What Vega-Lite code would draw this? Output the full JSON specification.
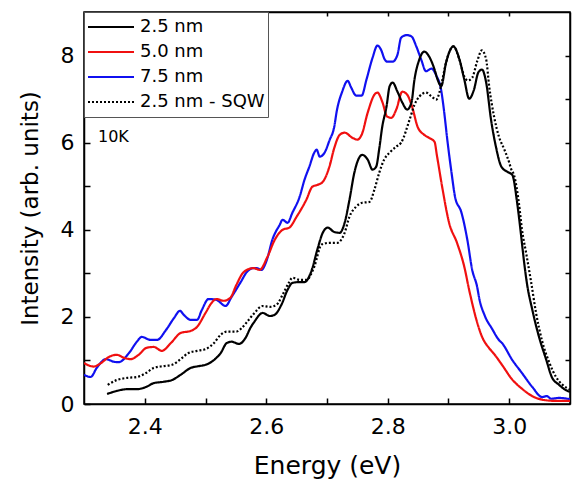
{
  "$schema": "https://vega.github.io/schema/vega-lite/v6.json",
  "width": 486,
  "height": 392,
  "autosize": {"type": "none"},
  "padding": {"left": 84, "top": 12, "right": 2, "bottom": 77},
  "background": "white",
  "config": {
    "font": "DejaVu Sans",
    "view": {"stroke": "#000", "strokeWidth": 1.5},
    "axis": {"domainColor": "#000", "domainWidth": 1.5, "tickColor": "#000", "tickWidth": 1.5, "labelColor": "#000", "titleColor": "#000", "grid": false, "labelFont": "DejaVu Sans", "titleFont": "DejaVu Sans", "titleFontWeight": "normal"}
  },
  "datasets": {
    "spectra": [
      {"series": "7.5 nm", "energy": 2.300, "intensity": 0.67},
      {"series": "7.5 nm", "energy": 2.311, "intensity": 0.62},
      {"series": "7.5 nm", "energy": 2.321, "intensity": 0.83},
      {"series": "7.5 nm", "energy": 2.336, "intensity": 1.03},
      {"series": "7.5 nm", "energy": 2.349, "intensity": 0.97},
      {"series": "7.5 nm", "energy": 2.357, "intensity": 0.96},
      {"series": "7.5 nm", "energy": 2.374, "intensity": 1.17},
      {"series": "7.5 nm", "energy": 2.387, "intensity": 1.43},
      {"series": "7.5 nm", "energy": 2.395, "intensity": 1.54},
      {"series": "7.5 nm", "energy": 2.410, "intensity": 1.47},
      {"series": "7.5 nm", "energy": 2.420, "intensity": 1.47},
      {"series": "7.5 nm", "energy": 2.435, "intensity": 1.70},
      {"series": "7.5 nm", "energy": 2.448, "intensity": 1.97},
      {"series": "7.5 nm", "energy": 2.458, "intensity": 2.14},
      {"series": "7.5 nm", "energy": 2.464, "intensity": 2.05},
      {"series": "7.5 nm", "energy": 2.476, "intensity": 1.93},
      {"series": "7.5 nm", "energy": 2.486, "intensity": 1.93},
      {"series": "7.5 nm", "energy": 2.494, "intensity": 2.16},
      {"series": "7.5 nm", "energy": 2.505, "intensity": 2.41},
      {"series": "7.5 nm", "energy": 2.518, "intensity": 2.39},
      {"series": "7.5 nm", "energy": 2.533, "intensity": 2.25},
      {"series": "7.5 nm", "energy": 2.543, "intensity": 2.46},
      {"series": "7.5 nm", "energy": 2.558, "intensity": 2.80},
      {"series": "7.5 nm", "energy": 2.568, "intensity": 3.03},
      {"series": "7.5 nm", "energy": 2.579, "intensity": 3.12},
      {"series": "7.5 nm", "energy": 2.584, "intensity": 3.12},
      {"series": "7.5 nm", "energy": 2.592, "intensity": 3.08},
      {"series": "7.5 nm", "energy": 2.601, "intensity": 3.31},
      {"series": "7.5 nm", "energy": 2.610, "intensity": 3.77},
      {"series": "7.5 nm", "energy": 2.622, "intensity": 4.11},
      {"series": "7.5 nm", "energy": 2.627, "intensity": 4.23},
      {"series": "7.5 nm", "energy": 2.635, "intensity": 4.16},
      {"series": "7.5 nm", "energy": 2.643, "intensity": 4.39},
      {"series": "7.5 nm", "energy": 2.655, "intensity": 4.76},
      {"series": "7.5 nm", "energy": 2.663, "intensity": 5.15},
      {"series": "7.5 nm", "energy": 2.671, "intensity": 5.45},
      {"series": "7.5 nm", "energy": 2.679, "intensity": 5.77},
      {"series": "7.5 nm", "energy": 2.683, "intensity": 5.84},
      {"series": "7.5 nm", "energy": 2.688, "intensity": 5.68},
      {"series": "7.5 nm", "energy": 2.696, "intensity": 5.77},
      {"series": "7.5 nm", "energy": 2.704, "intensity": 6.05},
      {"series": "7.5 nm", "energy": 2.712, "intensity": 6.37},
      {"series": "7.5 nm", "energy": 2.716, "intensity": 6.72},
      {"series": "7.5 nm", "energy": 2.725, "intensity": 7.17},
      {"series": "7.5 nm", "energy": 2.734, "intensity": 7.42},
      {"series": "7.5 nm", "energy": 2.740, "intensity": 7.26},
      {"series": "7.5 nm", "energy": 2.748, "intensity": 7.08},
      {"series": "7.5 nm", "energy": 2.757, "intensity": 7.08},
      {"series": "7.5 nm", "energy": 2.765, "intensity": 7.45},
      {"series": "7.5 nm", "energy": 2.775, "intensity": 7.95},
      {"series": "7.5 nm", "energy": 2.783, "intensity": 8.23},
      {"series": "7.5 nm", "energy": 2.790, "intensity": 8.10},
      {"series": "7.5 nm", "energy": 2.794, "intensity": 7.94},
      {"series": "7.5 nm", "energy": 2.799, "intensity": 7.86},
      {"series": "7.5 nm", "energy": 2.808, "intensity": 7.86},
      {"series": "7.5 nm", "energy": 2.816, "intensity": 8.02},
      {"series": "7.5 nm", "energy": 2.822, "intensity": 8.41},
      {"series": "7.5 nm", "energy": 2.831, "intensity": 8.47},
      {"series": "7.5 nm", "energy": 2.839, "intensity": 8.44},
      {"series": "7.5 nm", "energy": 2.847, "intensity": 8.21},
      {"series": "7.5 nm", "energy": 2.855, "intensity": 7.91},
      {"series": "7.5 nm", "energy": 2.863, "intensity": 7.64},
      {"series": "7.5 nm", "energy": 2.872, "intensity": 7.70},
      {"series": "7.5 nm", "energy": 2.880, "intensity": 7.54},
      {"series": "7.5 nm", "energy": 2.888, "intensity": 7.20},
      {"series": "7.5 nm", "energy": 2.893, "intensity": 6.69},
      {"series": "7.5 nm", "energy": 2.898, "intensity": 6.07},
      {"series": "7.5 nm", "energy": 2.905, "intensity": 5.31},
      {"series": "7.5 nm", "energy": 2.911, "intensity": 4.74},
      {"series": "7.5 nm", "energy": 2.921, "intensity": 4.41},
      {"series": "7.5 nm", "energy": 2.931, "intensity": 3.77},
      {"series": "7.5 nm", "energy": 2.939, "intensity": 3.08},
      {"series": "7.5 nm", "energy": 2.947, "intensity": 2.70},
      {"series": "7.5 nm", "energy": 2.951, "intensity": 2.40},
      {"series": "7.5 nm", "energy": 2.959, "intensity": 2.05},
      {"series": "7.5 nm", "energy": 2.972, "intensity": 1.72},
      {"series": "7.5 nm", "energy": 2.983, "intensity": 1.47},
      {"series": "7.5 nm", "energy": 2.988, "intensity": 1.40},
      {"series": "7.5 nm", "energy": 3.005, "intensity": 1.01},
      {"series": "7.5 nm", "energy": 3.021, "intensity": 0.71},
      {"series": "7.5 nm", "energy": 3.038, "intensity": 0.39},
      {"series": "7.5 nm", "energy": 3.054, "intensity": 0.16},
      {"series": "7.5 nm", "energy": 3.062, "intensity": 0.18},
      {"series": "7.5 nm", "energy": 3.069, "intensity": 0.12},
      {"series": "7.5 nm", "energy": 3.082, "intensity": 0.14},
      {"series": "7.5 nm", "energy": 3.100, "intensity": 0.11},
      {"series": "5.0 nm", "energy": 2.300, "intensity": 0.94},
      {"series": "5.0 nm", "energy": 2.316, "intensity": 0.86},
      {"series": "5.0 nm", "energy": 2.328, "intensity": 0.94},
      {"series": "5.0 nm", "energy": 2.341, "intensity": 1.08},
      {"series": "5.0 nm", "energy": 2.354, "intensity": 1.13},
      {"series": "5.0 nm", "energy": 2.366, "intensity": 1.06},
      {"series": "5.0 nm", "energy": 2.377, "intensity": 1.03},
      {"series": "5.0 nm", "energy": 2.390, "intensity": 1.13},
      {"series": "5.0 nm", "energy": 2.403, "intensity": 1.29},
      {"series": "5.0 nm", "energy": 2.415, "intensity": 1.31},
      {"series": "5.0 nm", "energy": 2.428, "intensity": 1.22},
      {"series": "5.0 nm", "energy": 2.443, "intensity": 1.40},
      {"series": "5.0 nm", "energy": 2.459, "intensity": 1.63},
      {"series": "5.0 nm", "energy": 2.476, "intensity": 1.68},
      {"series": "5.0 nm", "energy": 2.486, "intensity": 1.77},
      {"series": "5.0 nm", "energy": 2.500, "intensity": 2.09},
      {"series": "5.0 nm", "energy": 2.510, "intensity": 2.32},
      {"series": "5.0 nm", "energy": 2.518, "intensity": 2.41},
      {"series": "5.0 nm", "energy": 2.530, "intensity": 2.37},
      {"series": "5.0 nm", "energy": 2.541, "intensity": 2.44},
      {"series": "5.0 nm", "energy": 2.551, "intensity": 2.74},
      {"series": "5.0 nm", "energy": 2.563, "intensity": 3.03},
      {"series": "5.0 nm", "energy": 2.579, "intensity": 3.12},
      {"series": "5.0 nm", "energy": 2.589, "intensity": 3.08},
      {"series": "5.0 nm", "energy": 2.602, "intensity": 3.38},
      {"series": "5.0 nm", "energy": 2.614, "intensity": 3.77},
      {"series": "5.0 nm", "energy": 2.627, "intensity": 4.00},
      {"series": "5.0 nm", "energy": 2.638, "intensity": 4.05},
      {"series": "5.0 nm", "energy": 2.650, "intensity": 4.30},
      {"series": "5.0 nm", "energy": 2.666, "intensity": 4.69},
      {"series": "5.0 nm", "energy": 2.676, "intensity": 4.99},
      {"series": "5.0 nm", "energy": 2.684, "intensity": 5.03},
      {"series": "5.0 nm", "energy": 2.693, "intensity": 5.10},
      {"series": "5.0 nm", "energy": 2.704, "intensity": 5.45},
      {"series": "5.0 nm", "energy": 2.712, "intensity": 5.88},
      {"series": "5.0 nm", "energy": 2.721, "intensity": 6.18},
      {"series": "5.0 nm", "energy": 2.729, "intensity": 6.23},
      {"series": "5.0 nm", "energy": 2.742, "intensity": 6.11},
      {"series": "5.0 nm", "energy": 2.750, "intensity": 6.07},
      {"series": "5.0 nm", "energy": 2.757, "intensity": 6.18},
      {"series": "5.0 nm", "energy": 2.767, "intensity": 6.69},
      {"series": "5.0 nm", "energy": 2.778, "intensity": 7.10},
      {"series": "5.0 nm", "energy": 2.783, "intensity": 7.15},
      {"series": "5.0 nm", "energy": 2.791, "intensity": 6.94},
      {"series": "5.0 nm", "energy": 2.799, "intensity": 6.60},
      {"series": "5.0 nm", "energy": 2.806, "intensity": 6.57},
      {"series": "5.0 nm", "energy": 2.814, "intensity": 6.76},
      {"series": "5.0 nm", "energy": 2.824, "intensity": 7.17},
      {"series": "5.0 nm", "energy": 2.832, "intensity": 7.10},
      {"series": "5.0 nm", "energy": 2.840, "intensity": 6.83},
      {"series": "5.0 nm", "energy": 2.849, "intensity": 6.37},
      {"series": "5.0 nm", "energy": 2.860, "intensity": 6.18},
      {"series": "5.0 nm", "energy": 2.868, "intensity": 6.11},
      {"series": "5.0 nm", "energy": 2.877, "intensity": 6.02},
      {"series": "5.0 nm", "energy": 2.881, "intensity": 5.70},
      {"series": "5.0 nm", "energy": 2.890, "intensity": 4.95},
      {"series": "5.0 nm", "energy": 2.901, "intensity": 4.16},
      {"series": "5.0 nm", "energy": 2.914, "intensity": 3.70},
      {"series": "5.0 nm", "energy": 2.926, "intensity": 3.15},
      {"series": "5.0 nm", "energy": 2.934, "intensity": 2.62},
      {"series": "5.0 nm", "energy": 2.946, "intensity": 1.93},
      {"series": "5.0 nm", "energy": 2.955, "intensity": 1.55},
      {"series": "5.0 nm", "energy": 2.967, "intensity": 1.28},
      {"series": "5.0 nm", "energy": 2.975, "intensity": 1.15},
      {"series": "5.0 nm", "energy": 2.988, "intensity": 0.90},
      {"series": "5.0 nm", "energy": 3.005, "intensity": 0.56},
      {"series": "5.0 nm", "energy": 3.021, "intensity": 0.35},
      {"series": "5.0 nm", "energy": 3.038, "intensity": 0.18},
      {"series": "5.0 nm", "energy": 3.054, "intensity": 0.10},
      {"series": "5.0 nm", "energy": 3.077, "intensity": 0.07},
      {"series": "5.0 nm", "energy": 3.100, "intensity": 0.07},
      {"series": "2.5 nm", "energy": 2.338, "intensity": 0.23},
      {"series": "2.5 nm", "energy": 2.354, "intensity": 0.30},
      {"series": "2.5 nm", "energy": 2.371, "intensity": 0.34},
      {"series": "2.5 nm", "energy": 2.387, "intensity": 0.34},
      {"series": "2.5 nm", "energy": 2.402, "intensity": 0.39},
      {"series": "2.5 nm", "energy": 2.415, "intensity": 0.48},
      {"series": "2.5 nm", "energy": 2.431, "intensity": 0.51},
      {"series": "2.5 nm", "energy": 2.445, "intensity": 0.55},
      {"series": "2.5 nm", "energy": 2.459, "intensity": 0.67},
      {"series": "2.5 nm", "energy": 2.476, "intensity": 0.83},
      {"series": "2.5 nm", "energy": 2.489, "intensity": 0.87},
      {"series": "2.5 nm", "energy": 2.500, "intensity": 0.90},
      {"series": "2.5 nm", "energy": 2.514, "intensity": 1.01},
      {"series": "2.5 nm", "energy": 2.525, "intensity": 1.17},
      {"series": "2.5 nm", "energy": 2.535, "intensity": 1.40},
      {"series": "2.5 nm", "energy": 2.543, "intensity": 1.43},
      {"series": "2.5 nm", "energy": 2.555, "intensity": 1.38},
      {"series": "2.5 nm", "energy": 2.566, "intensity": 1.52},
      {"series": "2.5 nm", "energy": 2.574, "intensity": 1.75},
      {"series": "2.5 nm", "energy": 2.580, "intensity": 1.88},
      {"series": "2.5 nm", "energy": 2.594, "intensity": 2.09},
      {"series": "2.5 nm", "energy": 2.606, "intensity": 2.02},
      {"series": "2.5 nm", "energy": 2.614, "intensity": 2.05},
      {"series": "2.5 nm", "energy": 2.625, "intensity": 2.28},
      {"series": "2.5 nm", "energy": 2.635, "intensity": 2.62},
      {"series": "2.5 nm", "energy": 2.643, "intensity": 2.78},
      {"series": "2.5 nm", "energy": 2.655, "intensity": 2.80},
      {"series": "2.5 nm", "energy": 2.663, "intensity": 2.80},
      {"series": "2.5 nm", "energy": 2.675, "intensity": 3.08},
      {"series": "2.5 nm", "energy": 2.684, "intensity": 3.54},
      {"series": "2.5 nm", "energy": 2.693, "intensity": 3.93},
      {"series": "2.5 nm", "energy": 2.701, "intensity": 4.05},
      {"series": "2.5 nm", "energy": 2.712, "intensity": 3.95},
      {"series": "2.5 nm", "energy": 2.721, "intensity": 3.93},
      {"series": "2.5 nm", "energy": 2.729, "intensity": 4.16},
      {"series": "2.5 nm", "energy": 2.737, "intensity": 4.69},
      {"series": "2.5 nm", "energy": 2.745, "intensity": 5.31},
      {"series": "2.5 nm", "energy": 2.750, "intensity": 5.56},
      {"series": "2.5 nm", "energy": 2.758, "intensity": 5.72},
      {"series": "2.5 nm", "energy": 2.767, "intensity": 5.61},
      {"series": "2.5 nm", "energy": 2.775, "intensity": 5.38},
      {"series": "2.5 nm", "energy": 2.781, "intensity": 5.45},
      {"series": "2.5 nm", "energy": 2.786, "intensity": 5.86},
      {"series": "2.5 nm", "energy": 2.791, "intensity": 6.37},
      {"series": "2.5 nm", "energy": 2.798, "intensity": 6.83},
      {"series": "2.5 nm", "energy": 2.803, "intensity": 7.29},
      {"series": "2.5 nm", "energy": 2.808, "intensity": 7.38},
      {"series": "2.5 nm", "energy": 2.816, "intensity": 7.17},
      {"series": "2.5 nm", "energy": 2.824, "intensity": 6.92},
      {"series": "2.5 nm", "energy": 2.832, "intensity": 6.76},
      {"series": "2.5 nm", "energy": 2.839, "intensity": 6.92},
      {"series": "2.5 nm", "energy": 2.844, "intensity": 7.45},
      {"series": "2.5 nm", "energy": 2.852, "intensity": 7.91},
      {"series": "2.5 nm", "energy": 2.860, "intensity": 8.09},
      {"series": "2.5 nm", "energy": 2.868, "intensity": 7.98},
      {"series": "2.5 nm", "energy": 2.877, "intensity": 7.68},
      {"series": "2.5 nm", "energy": 2.882, "intensity": 7.45},
      {"series": "2.5 nm", "energy": 2.888, "intensity": 7.30},
      {"series": "2.5 nm", "energy": 2.896, "intensity": 7.84},
      {"series": "2.5 nm", "energy": 2.908, "intensity": 8.21},
      {"series": "2.5 nm", "energy": 2.918, "intensity": 7.91},
      {"series": "2.5 nm", "energy": 2.926, "intensity": 7.45},
      {"series": "2.5 nm", "energy": 2.934, "intensity": 7.01},
      {"series": "2.5 nm", "energy": 2.942, "intensity": 7.22},
      {"series": "2.5 nm", "energy": 2.949, "intensity": 7.61},
      {"series": "2.5 nm", "energy": 2.955, "intensity": 7.68},
      {"series": "2.5 nm", "energy": 2.962, "intensity": 7.38},
      {"series": "2.5 nm", "energy": 2.970, "intensity": 6.53},
      {"series": "2.5 nm", "energy": 2.978, "intensity": 5.91},
      {"series": "2.5 nm", "energy": 2.987, "intensity": 5.45},
      {"series": "2.5 nm", "energy": 2.997, "intensity": 5.33},
      {"series": "2.5 nm", "energy": 3.005, "intensity": 5.26},
      {"series": "2.5 nm", "energy": 3.013, "intensity": 4.62},
      {"series": "2.5 nm", "energy": 3.019, "intensity": 3.93},
      {"series": "2.5 nm", "energy": 3.024, "intensity": 3.31},
      {"series": "2.5 nm", "energy": 3.029, "intensity": 2.78},
      {"series": "2.5 nm", "energy": 3.038, "intensity": 2.16},
      {"series": "2.5 nm", "energy": 3.049, "intensity": 1.54},
      {"series": "2.5 nm", "energy": 3.061, "intensity": 1.01},
      {"series": "2.5 nm", "energy": 3.070, "intensity": 0.62},
      {"series": "2.5 nm", "energy": 3.082, "intensity": 0.44},
      {"series": "2.5 nm", "energy": 3.093, "intensity": 0.32},
      {"series": "2.5 nm", "energy": 3.100, "intensity": 0.28},
      {"series": "2.5 nm - SQW", "energy": 2.339, "intensity": 0.44},
      {"series": "2.5 nm - SQW", "energy": 2.354, "intensity": 0.55},
      {"series": "2.5 nm - SQW", "energy": 2.371, "intensity": 0.60},
      {"series": "2.5 nm - SQW", "energy": 2.387, "intensity": 0.62},
      {"series": "2.5 nm - SQW", "energy": 2.402, "intensity": 0.71},
      {"series": "2.5 nm - SQW", "energy": 2.415, "intensity": 0.83},
      {"series": "2.5 nm - SQW", "energy": 2.431, "intensity": 0.87},
      {"series": "2.5 nm - SQW", "energy": 2.445, "intensity": 0.90},
      {"series": "2.5 nm - SQW", "energy": 2.459, "intensity": 1.03},
      {"series": "2.5 nm - SQW", "energy": 2.472, "intensity": 1.17},
      {"series": "2.5 nm - SQW", "energy": 2.486, "intensity": 1.22},
      {"series": "2.5 nm - SQW", "energy": 2.500, "intensity": 1.26},
      {"series": "2.5 nm - SQW", "energy": 2.514, "intensity": 1.40},
      {"series": "2.5 nm - SQW", "energy": 2.525, "intensity": 1.59},
      {"series": "2.5 nm - SQW", "energy": 2.535, "intensity": 1.66},
      {"series": "2.5 nm - SQW", "energy": 2.550, "intensity": 1.66},
      {"series": "2.5 nm - SQW", "energy": 2.560, "intensity": 1.75},
      {"series": "2.5 nm - SQW", "energy": 2.571, "intensity": 1.93},
      {"series": "2.5 nm - SQW", "energy": 2.580, "intensity": 2.08},
      {"series": "2.5 nm - SQW", "energy": 2.594, "intensity": 2.25},
      {"series": "2.5 nm - SQW", "energy": 2.606, "intensity": 2.23},
      {"series": "2.5 nm - SQW", "energy": 2.617, "intensity": 2.28},
      {"series": "2.5 nm - SQW", "energy": 2.627, "intensity": 2.51},
      {"series": "2.5 nm - SQW", "energy": 2.637, "intensity": 2.78},
      {"series": "2.5 nm - SQW", "energy": 2.643, "intensity": 2.90},
      {"series": "2.5 nm - SQW", "energy": 2.655, "intensity": 2.85},
      {"series": "2.5 nm - SQW", "energy": 2.666, "intensity": 2.85},
      {"series": "2.5 nm - SQW", "energy": 2.679, "intensity": 3.15},
      {"series": "2.5 nm - SQW", "energy": 2.691, "intensity": 3.66},
      {"series": "2.5 nm - SQW", "energy": 2.704, "intensity": 3.70},
      {"series": "2.5 nm - SQW", "energy": 2.717, "intensity": 3.70},
      {"series": "2.5 nm - SQW", "energy": 2.729, "intensity": 3.93},
      {"series": "2.5 nm - SQW", "energy": 2.737, "intensity": 4.30},
      {"series": "2.5 nm - SQW", "energy": 2.748, "intensity": 4.53},
      {"series": "2.5 nm - SQW", "energy": 2.758, "intensity": 4.62},
      {"series": "2.5 nm - SQW", "energy": 2.770, "intensity": 4.64},
      {"series": "2.5 nm - SQW", "energy": 2.778, "intensity": 4.92},
      {"series": "2.5 nm - SQW", "energy": 2.786, "intensity": 5.31},
      {"series": "2.5 nm - SQW", "energy": 2.794, "intensity": 5.61},
      {"series": "2.5 nm - SQW", "energy": 2.803, "intensity": 5.77},
      {"series": "2.5 nm - SQW", "energy": 2.814, "intensity": 5.91},
      {"series": "2.5 nm - SQW", "energy": 2.822, "intensity": 6.00},
      {"series": "2.5 nm - SQW", "energy": 2.836, "intensity": 6.53},
      {"series": "2.5 nm - SQW", "energy": 2.844, "intensity": 6.87},
      {"series": "2.5 nm - SQW", "energy": 2.852, "intensity": 7.06},
      {"series": "2.5 nm - SQW", "energy": 2.863, "intensity": 7.15},
      {"series": "2.5 nm - SQW", "energy": 2.872, "intensity": 7.06},
      {"series": "2.5 nm - SQW", "energy": 2.880, "intensity": 6.99},
      {"series": "2.5 nm - SQW", "energy": 2.885, "intensity": 7.15},
      {"series": "2.5 nm - SQW", "energy": 2.890, "intensity": 7.45},
      {"series": "2.5 nm - SQW", "energy": 2.896, "intensity": 7.84},
      {"series": "2.5 nm - SQW", "energy": 2.908, "intensity": 8.21},
      {"series": "2.5 nm - SQW", "energy": 2.918, "intensity": 7.91},
      {"series": "2.5 nm - SQW", "energy": 2.926, "intensity": 7.52},
      {"series": "2.5 nm - SQW", "energy": 2.932, "intensity": 7.43},
      {"series": "2.5 nm - SQW", "energy": 2.939, "intensity": 7.49},
      {"series": "2.5 nm - SQW", "energy": 2.947, "intensity": 7.86},
      {"series": "2.5 nm - SQW", "energy": 2.955, "intensity": 8.12},
      {"series": "2.5 nm - SQW", "energy": 2.962, "intensity": 7.91},
      {"series": "2.5 nm - SQW", "energy": 2.967, "intensity": 7.29},
      {"series": "2.5 nm - SQW", "energy": 2.975, "intensity": 6.60},
      {"series": "2.5 nm - SQW", "energy": 2.983, "intensity": 6.14},
      {"series": "2.5 nm - SQW", "energy": 2.992, "intensity": 5.84},
      {"series": "2.5 nm - SQW", "energy": 3.000, "intensity": 5.54},
      {"series": "2.5 nm - SQW", "energy": 3.003, "intensity": 5.40},
      {"series": "2.5 nm - SQW", "energy": 3.008, "intensity": 5.25},
      {"series": "2.5 nm - SQW", "energy": 3.016, "intensity": 4.60},
      {"series": "2.5 nm - SQW", "energy": 3.021, "intensity": 4.00},
      {"series": "2.5 nm - SQW", "energy": 3.028, "intensity": 3.45},
      {"series": "2.5 nm - SQW", "energy": 3.036, "intensity": 2.80},
      {"series": "2.5 nm - SQW", "energy": 3.044, "intensity": 2.10},
      {"series": "2.5 nm - SQW", "energy": 3.054, "intensity": 1.45},
      {"series": "2.5 nm - SQW", "energy": 3.066, "intensity": 0.95},
      {"series": "2.5 nm - SQW", "energy": 3.077, "intensity": 0.62},
      {"series": "2.5 nm - SQW", "energy": 3.087, "intensity": 0.45},
      {"series": "2.5 nm - SQW", "energy": 3.100, "intensity": 0.33}
    ],
    "notes": [
      {"energy": 2.323, "intensity": 6.14, "label": "10K"}
    ]
  },
  "layer": [
    {
      "data": {"name": "spectra"},
      "mark": {"type": "line", "strokeWidth": 2.2, "interpolate": "monotone", "clip": true},
      "encoding": {
        "x": {
          "field": "energy", "type": "quantitative",
          "scale": {"domain": [2.3, 3.1], "nice": false, "zero": false},
          "axis": {
            "orient": "bottom",
            "values": [2.4, 2.5, 2.6, 2.7, 2.8, 2.9, 3.0],
            "labelExpr": "round(datum.value*10) % 2 == 0 ? format(datum.value, '.1f') : ''",
            "tickSize": -6,
            "labelFontSize": 22,
            "labelPadding": 18,
            "labelFlush": false,
            "labelOverlap": false,
            "title": "Energy (eV)",
            "titleFontSize": 25,
            "titlePadding": 16
          }
        },
        "y": {
          "field": "intensity", "type": "quantitative",
          "scale": {"domain": [0, 9], "nice": false},
          "axis": {
            "orient": "left",
            "values": [0, 1, 2, 3, 4, 5, 6, 7, 8],
            "labelExpr": "datum.value % 2 == 0 ? format(datum.value, 'd') : ''",
            "tickSize": -6,
            "labelFontSize": 22,
            "labelPadding": 16,
            "labelOverlap": false,
            "labelFlush": false,
            "title": "Intensity (arb. units)",
            "titleFontSize": 23,
            "titlePadding": 18
          }
        },
        "color": {
          "field": "series", "type": "nominal",
          "scale": {"domain": ["2.5 nm", "5.0 nm", "7.5 nm", "2.5 nm - SQW"], "range": ["#000000", "#f01010", "#1010f0", "#000000"]},
          "legend": {
            "title": null, "orient": "top-left", "offset": 0,
            "fillColor": "white", "strokeColor": "#555", "padding": 3,
            "symbolType": "stroke", "symbolSize": 2116, "symbolStrokeWidth": 2,
            "labelFontSize": 18, "labelColor": "#000", "labelOffset": 5,
            "clipHeight": 24, "rowPadding": 1, "labelLimit": 200
          }
        },
        "strokeDash": {
          "field": "series", "type": "nominal",
          "scale": {"domain": ["2.5 nm", "5.0 nm", "7.5 nm", "2.5 nm - SQW"], "range": [[1, 0], [1, 0], [1, 0], [2, 2]]},
          "legend": {
            "title": null, "orient": "top-left", "offset": 0,
            "fillColor": "white", "strokeColor": "#555", "padding": 3,
            "symbolType": "stroke", "symbolSize": 2116, "symbolStrokeWidth": 2,
            "labelFontSize": 18, "labelColor": "#000", "labelOffset": 5,
            "clipHeight": 24, "rowPadding": 1, "labelLimit": 200
          }
        }
      }
    },
    {
      "data": {"name": "notes"},
      "mark": {"type": "text", "align": "left", "baseline": "middle", "fontSize": 16, "color": "#000"},
      "encoding": {
        "x": {
          "field": "energy", "type": "quantitative",
          "scale": {"domain": [2.3, 3.1], "nice": false, "zero": false},
          "axis": {"orient": "top", "values": [2.4, 2.5, 2.6, 2.7, 2.8, 2.9, 3.0], "labels": false, "tickSize": -4, "title": null}
        },
        "y": {
          "field": "intensity", "type": "quantitative",
          "scale": {"domain": [0, 9], "nice": false},
          "axis": {"orient": "right", "values": [1, 2, 3, 4, 5, 6, 7, 8], "labels": false, "tickSize": -5, "title": null}
        },
        "text": {"field": "label"}
      }
    }
  ],
  "resolve": {"axis": {"x": "independent", "y": "independent"}}
}
